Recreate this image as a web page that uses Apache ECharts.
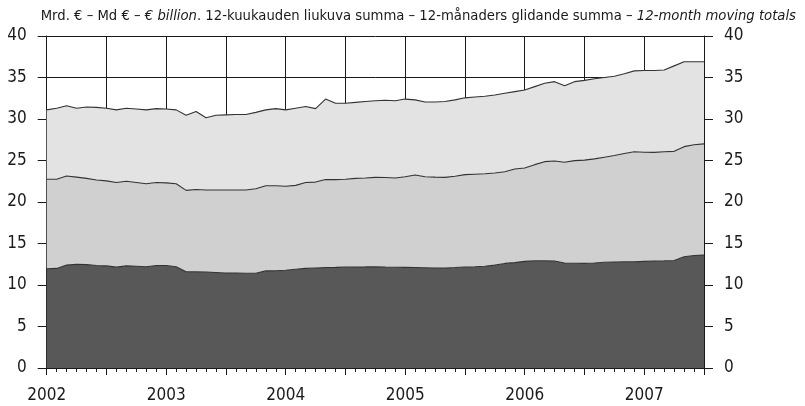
<!DOCTYPE html>
<html>
<head>
<meta charset="utf-8">
<script src="https://cdn.jsdelivr.net/npm/echarts@6/dist/echarts.min.js"></script>
<style>
  html, body { margin: 0; padding: 0; background: #fff; }
  #chart { width: 805px; height: 406px; }
</style>
</head>
<body>
<div id="chart"></div>
<script>
// Monthly observations, January 2002 to July 2007 (12-month moving totals, € billion)
const startYear = 2002;
const yearLabels = ['2002', '2003', '2004', '2005', '2006', '2007'];
const yTicks = [0, 5, 10, 15, 20, 25, 30, 35, 40];

// Bottom layer
const layerBottom = [
  11.95, 12.0, 12.4, 12.5, 12.45, 12.35, 12.3, 12.15, 12.3, 12.25, 12.2, 12.35,
  12.35, 12.2, 11.6, 11.6, 11.55, 11.5, 11.45, 11.45, 11.42, 11.42, 11.7, 11.72,
  11.78, 11.9, 12.0, 12.05, 12.1, 12.12, 12.15, 12.17, 12.18, 12.2, 12.15, 12.13,
  12.12, 12.1, 12.08, 12.05, 12.05, 12.1, 12.17, 12.2, 12.25, 12.4, 12.6, 12.7,
  12.85, 12.93, 12.92, 12.9, 12.65, 12.62, 12.6, 12.65, 12.75, 12.78, 12.8, 12.8,
  12.85, 12.9, 12.92, 12.95, 13.4, 13.55, 13.6
];
// Middle layer
const layerMiddle = [
  10.8, 10.75, 10.73, 10.5, 10.4, 10.3, 10.25, 10.2, 10.2, 10.1, 10.0, 10.0,
  9.95, 10.0, 9.8, 9.9, 9.9, 9.95, 10.0, 10.0, 10.03, 10.18, 10.25, 10.23,
  10.12, 10.1, 10.35, 10.35, 10.6, 10.58, 10.6, 10.68, 10.72, 10.77, 10.8, 10.77,
  10.93, 11.15, 10.97, 10.95, 10.92, 11.0, 11.13, 11.15, 11.15, 11.1, 11.05, 11.28,
  11.25, 11.57, 11.94, 12.04, 12.13, 12.36, 12.45, 12.55, 12.65, 12.82, 13.05, 13.26,
  13.15, 13.08, 13.13, 13.15, 13.27, 13.35, 13.4
];
// Top layer
const layerTop = [
  8.35, 8.55, 8.47, 8.3, 8.6, 8.75, 8.75, 8.75, 8.8, 8.85, 8.9, 8.9,
  8.9, 8.9, 9.05, 9.4, 8.7, 9.0, 9.05, 9.1, 9.1, 9.2, 9.15, 9.3,
  9.2, 9.3, 9.15, 8.85, 9.7, 9.2, 9.15, 9.15, 9.2, 9.23, 9.3, 9.3,
  9.35, 9.05, 9.0, 9.05, 9.13, 9.2, 9.25, 9.3, 9.35, 9.4, 9.45, 9.32,
  9.4, 9.4, 9.44, 9.56, 9.22, 9.52, 9.6, 9.65, 9.6, 9.55, 9.6, 9.74,
  9.85, 9.87, 9.85, 10.3, 10.23, 10.0, 9.9
];

// Month categories: 2002-01 ... 2007-07
const months = layerBottom.map((_, i) =>
  (startYear + Math.floor(i / 12)) + '-' + String(i % 12 + 1).padStart(2, '0'));

const FONT = '"DejaVu Sans Condensed", "Liberation Sans", Arial, sans-serif';
const INK = '#1a1a1a';

function yAxisDef(side) {
  return {
    type: 'value',
    position: side,
    min: yTicks[0],
    max: yTicks[yTicks.length - 1],
    interval: yTicks[1] - yTicks[0],
    axisLine: { show: true, lineStyle: { color: INK, width: 1 } },
    axisTick: { show: true, inside: false, length: 9, lineStyle: { color: INK, width: 1 } },
    axisLabel: {
      margin: 20, color: INK, fontFamily: FONT, fontSize: 17,
      formatter: v => String(v)
    },
    splitLine: { show: side === 'left', lineStyle: { color: INK, width: 1 } }
  };
}

function areaSeries(name, values, color) {
  return {
    name: name,
    type: 'line',
    stack: 'total',
    data: values,
    showSymbol: false,
    symbol: 'none',
    smooth: false,
    lineStyle: { color: '#333333', width: 1.1 },
    areaStyle: { color: color, opacity: 1 },
    emphasis: { disabled: true },
    z: 3
  };
}

const chart = echarts.init(document.getElementById('chart'), null, { renderer: 'canvas' });
chart.setOption({
  animation: false,
  backgroundColor: '#ffffff',
  title: {
    right: 4,
    top: 4,
    text: '{n|Mrd. € – Md € – }{i|€ billion}{n|. 12-kuukauden liukuva summa – 12-månaders glidande summa – }{i|12-month moving totals}',
    textStyle: {
      fontWeight: 'normal',
      rich: {
        n: { fontFamily: FONT, fontSize: 14.7, fontWeight: 'normal', color: INK },
        i: { fontFamily: FONT, fontSize: 14.7, fontWeight: 'normal', fontStyle: 'italic', color: INK }
      }
    }
  },
  grid: { left: 46.7, right: 101, top: 36, bottom: 38, containLabel: false },
  xAxis: [
    {
      // half-year grid, ticks and year labels
      type: 'category',
      data: months,
      boundaryGap: false,
      axisLine: { show: true, onZero: false, lineStyle: { color: INK, width: 1 } },
      axisTick: {
        show: true, inside: false, length: 7,
        interval: i => i % 6 === 0,
        lineStyle: { color: INK, width: 1 }
      },
      axisLabel: {
        margin: 19, color: INK, fontFamily: FONT, fontSize: 17,
        interval: i => i % 12 === 0,
        formatter: (v, i) => yearLabels[i / 12] || v.slice(0, 4)
      },
      splitLine: {
        show: true,
        interval: i => i % 6 === 0,
        lineStyle: { color: INK, width: 1 }
      }
    },
    {
      // monthly minor ticks
      type: 'category',
      data: months,
      boundaryGap: false,
      position: 'bottom',
      axisLine: { show: false },
      axisTick: { show: true, inside: false, length: 4, interval: 0, lineStyle: { color: INK, width: 1 } },
      axisLabel: { show: false },
      splitLine: { show: false }
    }
  ],
  yAxis: [yAxisDef('left'), yAxisDef('right')],
  series: [
    areaSeries('bottom', layerBottom, '#585858'),
    areaSeries('middle', layerMiddle, '#d0d0d0'),
    areaSeries('top', layerTop, '#e3e3e3')
  ]
});
</script>
</body>
</html>
